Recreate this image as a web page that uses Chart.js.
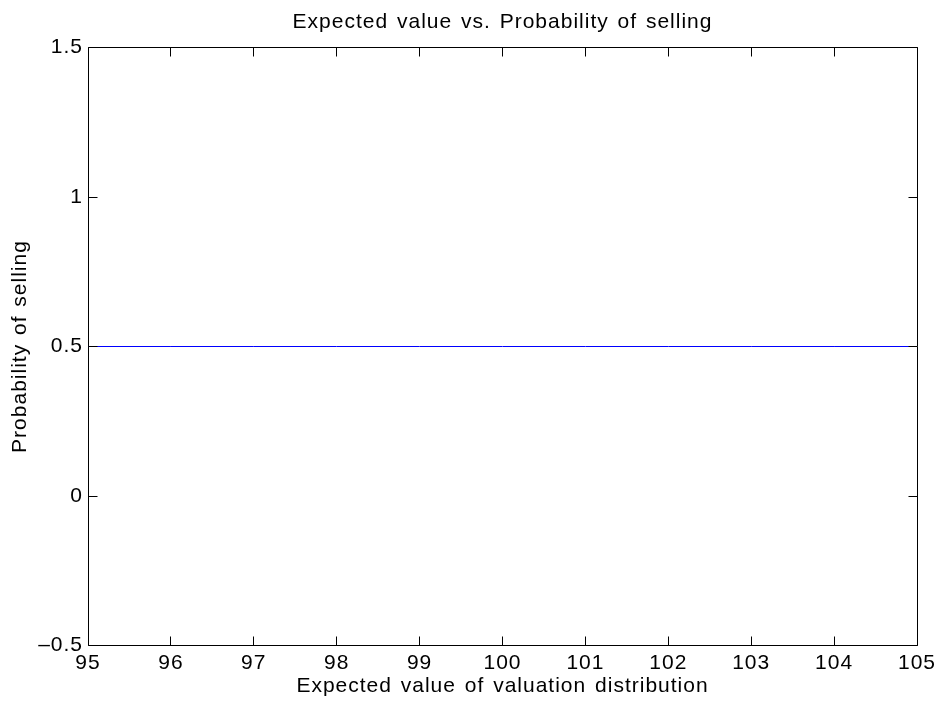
<!DOCTYPE html>
<html>
<head>
<meta charset="utf-8">
<script src="https://cdn.jsdelivr.net/npm/chart.js@4"></script>
<style>
  html, body { margin: 0; padding: 0; background: #ffffff; }
  #wrap { width: 946px; height: 703px; }
</style>
</head>
<body>
<div id="wrap"><canvas id="c" width="946" height="703"></canvas></div>
<script>
// Expected value of the valuation distribution (x) and probability of selling (y)
const expectedValues = [95, 96, 97, 98, 99, 100, 101, 102, 103, 104, 105];
const sellProbability = [0.5, 0.5, 0.5, 0.5, 0.5, 0.5, 0.5, 0.5, 0.5, 0.5, 0.5];

// Axis ticks
const xTickValues = [95, 96, 97, 98, 99, 100, 101, 102, 103, 104, 105];
const yTickValues = [-0.5, 0, 0.5, 1, 1.5];
const yTickLabels = ['\u20130.5', '0', '0.5', '1', '1.5'];

const FONT = { family: '"Liberation Sans", Arial, Helvetica, sans-serif', size: 21 };
const LETTER_SPACING = '1px';
const WORD_SPACING = '2px';

// Slightly widened letter and word spacing for all canvas text
const spacingPlugin = {
  id: 'spacing',
  beforeLayout(chart) {
    chart.ctx.letterSpacing = LETTER_SPACING;
    chart.ctx.wordSpacing = WORD_SPACING;
  },
  beforeDraw(chart) {
    chart.ctx.letterSpacing = LETTER_SPACING;
    chart.ctx.wordSpacing = WORD_SPACING;
  }
};

// Box frame with inward tick marks on all four sides
const framePlugin = {
  id: 'frame',
  afterDraw(chart) {
    const { ctx, chartArea: a, scales } = chart;
    const tl = 9;
    const L = Math.floor(a.left) + 0.5, R = Math.floor(a.right) + 0.5;
    const T = Math.floor(a.top) + 0.5, B = Math.floor(a.bottom) + 0.5;
    ctx.save();
    ctx.strokeStyle = '#000000';
    ctx.lineWidth = 1;
    ctx.beginPath();
    ctx.rect(L, T, R - L, B - T);
    for (const v of xTickValues) {
      const px = Math.floor(scales.x.getPixelForValue(v)) + 0.5;
      ctx.moveTo(px, B); ctx.lineTo(px, B - tl);
      ctx.moveTo(px, T); ctx.lineTo(px, T + tl);
    }
    for (const v of yTickValues) {
      const py = Math.floor(scales.y.getPixelForValue(v)) + 0.5;
      ctx.moveTo(L, py); ctx.lineTo(L + tl, py);
      ctx.moveTo(R, py); ctx.lineTo(R - tl, py);
    }
    ctx.stroke();
    ctx.restore();
  }
};

new Chart(document.getElementById('c'), {
  type: 'line',
  data: {
    labels: expectedValues,
    datasets: [{
      data: expectedValues.map((x, i) => ({ x: x, y: sellProbability[i] })),
      borderColor: '#0000ff',
      borderWidth: 1,
      pointRadius: 0,
      tension: 0,
      fill: false
    }]
  },
  options: {
    responsive: false,
    devicePixelRatio: 1,
    animation: false,
    layout: { autoPadding: false, padding: { left: 0, right: 29, top: 0, bottom: 0 } },
    plugins: {
      legend: { display: false },
      tooltip: { enabled: false },
      title: {
        display: true,
        fullSize: false,
        text: 'Expected value vs. Probability of selling',
        color: '#000000',
        font: { family: FONT.family, size: 21, weight: 'normal' },
        padding: { top: 10, bottom: 12.3 }
      }
    },
    scales: {
      x: {
        type: 'linear',
        position: 'bottom',
        min: 95,
        max: 105,
        grid: { display: false, drawTicks: false },
        border: { display: false },
        afterBuildTicks(scale) { scale.ticks = xTickValues.map(v => ({ value: v })); },
        afterFit(scale) { scale.height = 57.5; },
        ticks: {
          color: '#000000',
          font: FONT,
          padding: 5,
          maxRotation: 0,
          autoSkip: false,
          callback: (v) => String(v)
        },
        title: {
          display: true,
          text: 'Expected value of valuation distribution',
          color: '#000000',
          font: FONT,
          padding: { top: 0, bottom: 4 }
        }
      },
      y: {
        type: 'linear',
        position: 'left',
        min: -0.5,
        max: 1.5,
        grid: { display: false, drawTicks: false },
        border: { display: false },
        afterBuildTicks(scale) { scale.ticks = yTickValues.map(v => ({ value: v })); },
        afterFit(scale) { scale.width = 88; },
        ticks: {
          color: '#000000',
          font: FONT,
          padding: 5,
          autoSkip: false,
          callback: (v) => yTickLabels[yTickValues.indexOf(v)]
        },
        title: {
          display: true,
          text: 'Probability of selling',
          color: '#000000',
          font: FONT,
          padding: { top: 8, bottom: 0 }
        }
      }
    }
  },
  plugins: [spacingPlugin, framePlugin]
});
</script>
</body>
</html>
